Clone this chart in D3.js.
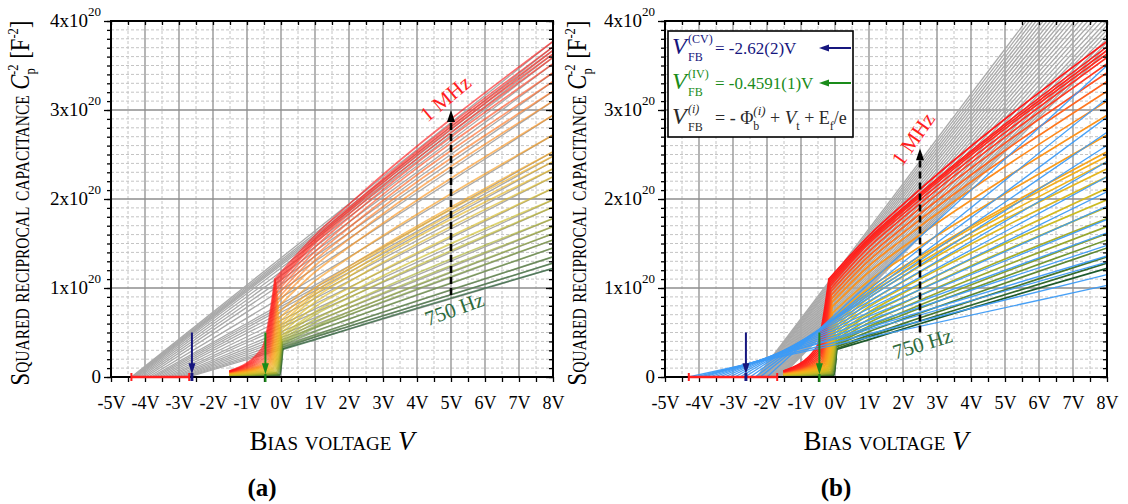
<!DOCTYPE html>
<html>
<head>
<meta charset="utf-8">
<script src="https://cdn.jsdelivr.net/npm/d3@7"></script>
<style>
  html, body { margin: 0; padding: 0; background: #fff; }
  svg { display: block; }
</style>
</head>
<body>
<svg id="fig" width="1128" height="504"></svg>
<script>
// ---------------- axis ticks ----------------
const xTickValues = [-5, -4, -3, -2, -1, 0, 1, 2, 3, 4, 5, 6, 7, 8];
const yTickValues = [0, 1, 2, 3, 4];                 // units of 1e20 F^-2
const yTickMantissa = ["0", "1x10", "2x10", "3x10", "4x10"];
const yTickExponent = ["", "20", "20", "20", "20"];

// ---------------- C^-2(V) sweeps, 1 MHz (first) ... 750 Hz (last) ----------------
// level of the flat part at -1.5 V
const baseVal = [0.070,0.068,0.066,0.064,0.062,0.060,0.058,0.056,0.054,0.052,0.050,0.047,0.044,0.041,
                 0.038,0.035,0.032,0.029,0.026,0.023,0.020,0.017,0.014,0.011,0.008,0.006,0.004,0.002];
// foot of the steep rise
const footV   = [-0.55,-0.53,-0.51,-0.49,-0.47,-0.45,-0.43,-0.41,-0.39,-0.37,-0.35,-0.33,-0.31,-0.29,
                 -0.27,-0.25,-0.23,-0.21,-0.19,-0.17,-0.15,-0.13,-0.11,-0.09,-0.07,-0.05,-0.04,-0.03];
const footVal = [0.33,0.31,0.29,0.27,0.25,0.23,0.21,0.19,0.17,0.16,0.15,0.14,0.13,0.12,
                 0.11,0.10,0.09,0.08,0.07,0.06,0.05,0.05,0.04,0.04,0.03,0.03,0.02,0.02];
// top of the steep rise (knee)
const kinkV   = [-0.18,-0.17,-0.16,-0.15,-0.14,-0.13,-0.12,-0.11,-0.10,-0.09,-0.08,-0.07,-0.06,-0.05,
                 -0.04,-0.03,-0.02,-0.01,0.00,0.01,0.02,0.02,0.03,0.03,0.04,0.04,0.05,0.05];
const kinkVal = [1.10,1.08,1.06,1.04,1.02,0.99,0.96,0.92,0.88,0.84,0.79,0.72,0.66,0.62,
                 0.58,0.55,0.52,0.49,0.46,0.44,0.42,0.40,0.39,0.37,0.36,0.34,0.32,0.31];
// values at 1 V, 2 V and 8 V
const valAt1V = [1.59,1.56,1.54,1.52,1.50,1.46,1.41,1.36,1.31,1.25,1.18,1.08,1.00,0.96,
                 0.93,0.89,0.84,0.79,0.73,0.70,0.65,0.61,0.57,0.55,0.51,0.47,0.45,0.42];
const valAt2V = [1.94,1.90,1.88,1.86,1.83,1.79,1.74,1.68,1.62,1.55,1.46,1.34,1.24,1.21,
                 1.17,1.13,1.07,1.00,0.94,0.89,0.83,0.78,0.73,0.70,0.65,0.60,0.57,0.54];
const valAt8V = [3.77,3.71,3.67,3.63,3.59,3.52,3.42,3.32,3.21,3.10,2.94,2.72,2.53,2.48,
                 2.42,2.34,2.25,2.12,1.99,1.91,1.78,1.69,1.61,1.54,1.45,1.35,1.28,1.22];

// ---------------- linear fits (grey) ----------------
// (a) fits of the high-bias linear region: x-intercept and value at 8 V = valAt8V
const fitInterceptA = [-4.40,-4.38,-4.35,-4.33,-4.30,-4.27,-4.23,-4.18,-4.12,-4.05,-3.98,-3.90,-3.82,-3.75,
                       -3.68,-3.60,-3.52,-3.44,-3.36,-3.28,-3.20,-3.12,-3.04,-2.96,-2.90,-2.84,-2.78,-2.72];
// (b) fits of the steep region just above the knee
const fitInterceptB = [-2.30,-2.28,-2.26,-2.24,-2.22,-2.20,-2.17,-2.14,-2.11,-2.08,-2.05,-2.02,-1.99,-1.96,
                       -1.93,-1.90,-1.87,-1.84,-1.81,-1.78,-1.75,-1.72,-1.70,-1.68,-1.66,-1.64,-1.62,-1.60];
const fitEndB       = [5.20,5.14,5.08,5.02,4.96,4.90,4.84,4.78,4.72,4.66,4.60,4.54,4.48,4.42,
                       4.36,4.30,4.24,4.18,4.12,4.06,4.00,3.95,3.90,3.85,3.80,3.76,3.72,3.68];
// (b) low-slope fits (blue)
const blueIntercept = [-2.00,-2.20,-2.35,-2.50,-2.65,-2.80,-2.95,-3.10,-3.25,-3.40,-3.55,-3.70,-3.85,-3.95,-4.10,-4.30];
const blueEnd       = [3.50,3.13,2.92,2.75,2.60,2.42,2.25,2.08,1.92,1.77,1.62,1.48,1.36,1.29,1.15,1.03];

// ---------------- flat-band voltages ----------------
const vfbCV = -2.62, vfbCVerr = 0.02;
const vfbIV = -0.4591;
const interceptSpread = [[-4.40, -2.70], [-4.30, -1.70]];     // red bars, panels a / b
const freqArrowV = [5.0, 2.5];                                // dashed 750 Hz -> 1 MHz arrow
const freqArrowFrom = [0.92, 0.50], freqArrowTo = [3.0, 2.57];

const FONT = "'Liberation Serif','Times New Roman',serif";
const svg = d3.select("#fig").attr("font-family", FONT);
const defs = svg.append("defs");

const plotTop = 21, plotW = 442, plotH = 356;
const panelLeft = [111, 665];
const x = d3.scaleLinear().domain([-5, 8]).range([0, plotW]);
const y = d3.scaleLinear().domain([0, 4]).range([plotH, 0]);

const nCurves = valAt8V.length;
const sweepColor = d3.scaleLinear()
  .domain([0, 4.5, 9, 13.5, 18, 22.5, 27])
  .range(["#ff1a1a", "#ff3324", "#ff8a1c", "#f2b21c", "#cbbb22", "#7d9c32", "#1d5a2c"]);

const straight = d3.line().x(d => x(d[0])).y(d => y(d[1]));
const smooth = d3.line().x(d => x(d[0])).y(d => y(d[1])).curve(d3.curveMonotoneX);

const NAVY = "#16167e", GREEN = "#1a8c1a", RED = "#ff1e1e", DKGREEN = "#2e6b3c";

function arrow(g, x1, y1, x2, y2, color, width, dash, headL, headW) {
  const dx = x2 - x1, dy = y2 - y1, L = Math.hypot(dx, dy), ux = dx / L, uy = dy / L;
  const bx = x2 - ux * headL, by = y2 - uy * headL;
  g.append("line").attr("x1", x1).attr("y1", y1).attr("x2", bx + ux).attr("y2", by + uy)
    .attr("stroke", color).attr("stroke-width", width).attr("stroke-dasharray", dash || null);
  g.append("path")
    .attr("d", `M${x2},${y2}L${bx - uy * headW / 2},${by + ux * headW / 2}L${bx + uy * headW / 2},${by - ux * headW / 2}Z`)
    .attr("fill", color);
}

// each sweep: the depletion rise up to the knee, then the branch above the knee
function sweepPieces(k) {
  return [
    [[-1.5, baseVal[k]], [footV[k], footVal[k]], [kinkV[k], kinkVal[k]]],
    [[kinkV[k], kinkVal[k]], [1, valAt1V[k]], [2, valAt2V[k]], [8, valAt8V[k]]]
  ];
}

function drawPanel(i) {
  const g = svg.append("g").attr("transform", `translate(${panelLeft[i]},${plotTop})`);
  const clipId = "plotclip" + i;
  defs.append("clipPath").attr("id", clipId).append("rect").attr("width", plotW).attr("height", plotH);

  // grid
  const grid = g.append("g");
  const halfV = d3.range(-4.5, 8, 1), wholeV = d3.range(-4, 8, 1);
  const tenthY = d3.range(1, 40).filter(j => j % 10 !== 0).map(j => j / 10), wholeY = [1, 2, 3];
  grid.selectAll(null).data(halfV).join("line")
    .attr("x1", d => x(d)).attr("x2", d => x(d)).attr("y1", 0).attr("y2", plotH)
    .attr("stroke", "#c4c4c4").attr("stroke-width", 1).attr("stroke-dasharray", "3,2");
  grid.selectAll(null).data(tenthY).join("line")
    .attr("y1", d => y(d)).attr("y2", d => y(d)).attr("x1", 0).attr("x2", plotW)
    .attr("stroke", "#c4c4c4").attr("stroke-width", 1).attr("stroke-dasharray", "3,2");
  grid.selectAll(null).data(wholeV).join("line")
    .attr("x1", d => x(d)).attr("x2", d => x(d)).attr("y1", 0).attr("y2", plotH)
    .attr("stroke", "#8e8e8e").attr("stroke-width", 1.3);
  grid.selectAll(null).data(wholeY).join("line")
    .attr("y1", d => y(d)).attr("y2", d => y(d)).attr("x1", 0).attr("x2", plotW)
    .attr("stroke", "#8e8e8e").attr("stroke-width", 1.3);

  const plot = g.append("g").attr("clip-path", `url(#${clipId})`);
  const idx = d3.range(nCurves);

  // grey fits
  const fitLines = i === 0
    ? idx.map(k => [[fitInterceptA[k], 0], [8, valAt8V[k]]])
    : idx.map(k => [[fitInterceptB[k], 0], [8, fitEndB[k]]]);
  plot.append("g").selectAll("path").data(fitLines).join("path")
    .attr("d", straight).attr("fill", "none").attr("stroke", "#a9a9a9").attr("stroke-width", 1.3);

  // measured sweeps
  plot.append("g").selectAll("g").data(idx.slice().reverse()).join("g")
    .attr("stroke", k => sweepColor(k))
    .attr("stroke-opacity", i === 0 ? 0.64 : 1)
    .selectAll("path").data(k => sweepPieces(k)).join("path")
    .attr("d", smooth).attr("fill", "none").attr("stroke-width", 1.7).attr("stroke-linecap", "round");

  // blue fits (panel b)
  if (i === 1) {
    plot.append("g").selectAll("path")
      .data(d3.range(blueEnd.length).map(j => [[blueIntercept[j], 0], [8, blueEnd[j]]]))
      .join("path").attr("d", straight).attr("fill", "none")
      .attr("stroke", "#3d9bf5").attr("stroke-width", 1.3).attr("stroke-opacity", 0.95);
  }

  // legend (panel b)
  if (i === 1) {
    const lg = g.append("g").attr("transform", "translate(3,10)");
    lg.append("rect").attr("width", 185).attr("height", 106)
      .attr("fill", "#fff").attr("stroke", "#000").attr("stroke-width", 1.6);
    const rows = [
      { base: 23, sup: "(CV)", supItalic: false, color: NAVY, value: "= -2.62(2)V", arrow: true },
      { base: 58, sup: "(IV)", supItalic: false, color: GREEN, value: "= -0.4591(1)V", arrow: true },
      { base: 93, sup: "(i)", supItalic: true, color: "#2a2a2a", value: null, arrow: false }
    ];
    rows.forEach(r => {
      lg.append("text").attr("x", 4).attr("y", r.base).attr("font-size", 24)
        .attr("font-style", "italic").attr("fill", r.color).text("V");
      lg.append("text").attr("x", 20).attr("y", r.base - 11).attr("font-size", 12)
        .attr("font-style", r.supItalic ? "italic" : "normal").attr("fill", r.color).text(r.sup);
      lg.append("text").attr("x", 20).attr("y", r.base + 7).attr("font-size", 12)
        .attr("fill", r.color).text("FB");
      if (r.value) {
        lg.append("text").attr("x", 47).attr("y", r.base).attr("font-size", 17)
          .attr("fill", r.color).text(r.value);
      }
      if (r.arrow) arrow(lg, 183, r.base - 6, 151, r.base - 6, r.color, 2, null, 10, 7);
    });
    const eq = lg.append("text").attr("x", 47).attr("y", 93).attr("font-size", 18).attr("fill", "#2a2a2a");
    eq.append("tspan").text("= - Φ");
    eq.append("tspan").attr("dy", 6).attr("font-size", 12).text("b");
    eq.append("tspan").attr("dx", -6).attr("dy", -15).attr("font-size", 13).attr("font-style", "italic").text("(i)");
    eq.append("tspan").attr("dy", 9).text(" + ");
    eq.append("tspan").attr("font-style", "italic").attr("font-size", 19).text("V");
    eq.append("tspan").attr("dy", 6).attr("font-size", 12).text("t");
    eq.append("tspan").attr("dy", -6).text(" + E");
    eq.append("tspan").attr("dy", 6).attr("font-size", 12).text("f");
    eq.append("tspan").attr("dy", -6).text("/e");
  }

  // axes
  const halves = d3.range(-5, 8.01, 0.5);
  const tenths = d3.range(0, 41).map(j => j / 10);
  const styleAxis = a => { a.select(".domain").remove(); a.selectAll("line").attr("stroke-width", 1.3); };
  const axB = g.append("g").attr("transform", `translate(0,${plotH})`)
    .call(d3.axisBottom(x).tickValues(halves).tickSize(5).tickSizeOuter(0)
      .tickFormat(d => Number.isInteger(d) ? d + "V" : ""));
  styleAxis(axB);
  axB.selectAll("text").attr("y", 19).attr("font-size", 18).attr("font-family", FONT).attr("fill", "#000");
  const axT = g.append("g").call(d3.axisTop(x).tickValues(halves).tickSize(-4).tickSizeOuter(0).tickFormat(""));
  styleAxis(axT);
  const axL = g.append("g").call(d3.axisLeft(y).tickValues(tenths).tickSize(4).tickSizeOuter(0).tickFormat(""));
  styleAxis(axL);
  const axL2 = g.append("g").call(d3.axisLeft(y).tickValues(yTickValues).tickSize(7).tickSizeOuter(0).tickFormat(""));
  styleAxis(axL2);
  const axR = g.append("g").attr("transform", `translate(${plotW},0)`)
    .call(d3.axisRight(y).tickValues(tenths).tickSize(-4).tickSizeOuter(0).tickFormat(""));
  styleAxis(axR);
  const axR2 = g.append("g").attr("transform", `translate(${plotW},0)`)
    .call(d3.axisRight(y).tickValues(yTickValues).tickSize(-7).tickSizeOuter(0).tickFormat(""));
  styleAxis(axR2);

  g.selectAll(null).data(yTickValues).join("text")
    .attr("x", -10).attr("y", d => y(d) + 6).attr("text-anchor", "end").attr("font-size", 19)
    .each(function (d, j) {
      const t = d3.select(this);
      t.append("tspan").text(yTickMantissa[j]);
      if (yTickExponent[j]) t.append("tspan").attr("dy", -11).attr("font-size", 13).text(yTickExponent[j]);
    });

  g.append("rect").attr("width", plotW).attr("height", plotH)
    .attr("fill", "none").attr("stroke", "#000").attr("stroke-width", 2);

  // markers drawn over the frame
  const ov = g.append("g");
  const [s0, s1] = interceptSpread[i];
  ov.append("line").attr("x1", x(s0)).attr("x2", x(s1)).attr("y1", y(0)).attr("y2", y(0))
    .attr("stroke", RED).attr("stroke-width", 2.4);
  [s0, s1].forEach(v => ov.append("line").attr("x1", x(v)).attr("x2", x(v))
    .attr("y1", y(0) - 4).attr("y2", y(0) + 4).attr("stroke", RED).attr("stroke-width", 2));

  arrow(ov, x(vfbCV), y(0.50), x(vfbCV), y(0.03), NAVY, 2, null, 11, 7);
  [vfbCV - vfbCVerr, vfbCV + vfbCVerr].forEach(v => ov.append("line")
    .attr("x1", x(v)).attr("x2", x(v)).attr("y1", y(0) - 4).attr("y2", y(0) + 4)
    .attr("stroke", NAVY).attr("stroke-width", 1.6));
  arrow(ov, x(vfbIV), y(0.50), x(vfbIV), y(0.03), GREEN, 2, null, 11, 7);
  ov.append("line").attr("x1", x(vfbIV)).attr("x2", x(vfbIV)).attr("y1", y(0) - 3).attr("y2", y(0) + 5)
    .attr("stroke", GREEN).attr("stroke-width", 2.2);

  arrow(ov, x(freqArrowV[i]), y(freqArrowFrom[i]), x(freqArrowV[i]), y(freqArrowTo[i]),
        "#000", 2.6, "7,4", 12, 8);
  const hiLab = i === 0 ? { v: 4.88, c: 3.11, rot: -40 } : { v: 2.35, c: 2.66, rot: -55 };
  const loLab = i === 0 ? { v: 5.12, c: 0.74, rot: -20 } : { v: 2.59, c: 0.35, rot: -17 };
  ov.append("text").attr("transform", `translate(${x(hiLab.v)},${y(hiLab.c)}) rotate(${hiLab.rot})`)
    .attr("text-anchor", "middle").attr("dominant-baseline", "middle")
    .attr("font-size", 21).attr("fill", RED).text("1 MHz");
  ov.append("text").attr("transform", `translate(${x(loLab.v)},${y(loLab.c)}) rotate(${loLab.rot})`)
    .attr("text-anchor", "middle").attr("dominant-baseline", "middle")
    .attr("font-size", 21).attr("fill", DKGREEN).text("750 Hz");

  // axis titles
  const xt = svg.append("text").attr("x", panelLeft[i] + plotW / 2).attr("y", 450)
    .attr("text-anchor", "middle").attr("font-size", 27);
  xt.append("tspan").attr("font-variant", "small-caps").text("Bias voltage ");
  xt.append("tspan").attr("font-style", "italic").text("V");

  const yTitleX = [29, 586];
  const yt = svg.append("text")
    .attr("transform", `translate(${yTitleX[i]},${plotTop + plotH / 2 + 4}) rotate(-90) scale(0.84,1)`)
    .attr("text-anchor", "middle").attr("font-size", 27);
  yt.append("tspan").attr("font-variant", "small-caps").text("Squared reciprocal capacitance ");
  yt.append("tspan").attr("font-style", "italic").text("C");
  yt.append("tspan").attr("dy", 6).attr("font-size", 15).text("p");
  yt.append("tspan").attr("dx", -8).attr("dy", -17).attr("font-size", 15).text("-2");
  yt.append("tspan").attr("dy", 11).text(" [F");
  yt.append("tspan").attr("dy", -11).attr("font-size", 15).text("-2");
  yt.append("tspan").attr("dy", 11).text("]");

  svg.append("text").attr("x", [262, 836][i]).attr("y", 496).attr("text-anchor", "middle")
    .attr("font-size", 25).attr("font-weight", "bold").text(["(a)", "(b)"][i]);
}

drawPanel(0);
drawPanel(1);
</script>
</body>
</html>
